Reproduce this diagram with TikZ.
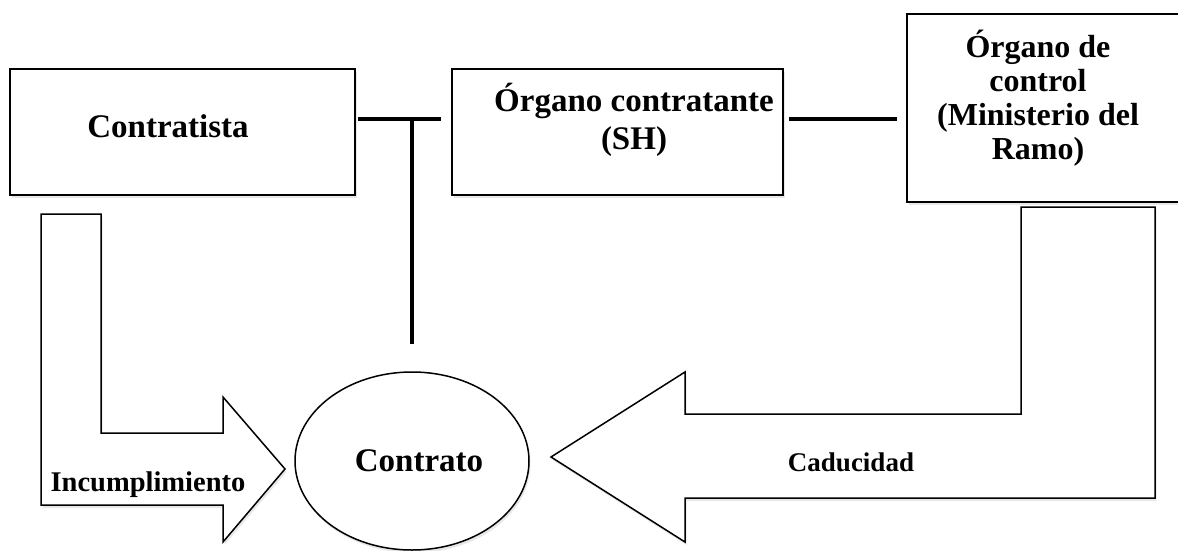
\documentclass[tikz,border=0pt]{standalone}
\usepackage{fontspec}
\setmainfont{Liberation Serif}
\usetikzlibrary{shapes.geometric,shadows}
\tikzset{
  boxnode/.style={draw=black, line width=1.8pt, fill=white, rectangle, inner sep=0pt,
    drop shadow={opacity=0.18, shadow xshift=1.5pt, shadow yshift=-3pt}},
  lbl/.style={font=\fontsize{33}{38}\selectfont\bfseries, align=center, inner sep=0pt},
  ctllbl/.style={font=\fontsize{32}{34}\selectfont\bfseries, align=center, inner sep=0pt},
  smalllbl/.style={font=\fontsize{28.5}{30}\selectfont\bfseries, inner sep=0pt},
  cadlbl/.style={font=\fontsize{27}{30}\selectfont\bfseries, inner sep=0pt},
  link/.style={line width=4.5pt, draw=black},
  bigarrow/.style={draw=black, line width=1.5pt, fill=white, line join=miter,
    drop shadow={opacity=0.18, shadow xshift=1.5pt, shadow yshift=-3pt}},
  ovalnode/.style={ellipse, draw=black, line width=1.5pt, fill=white, inner sep=0pt,
    drop shadow={opacity=0.18, shadow xshift=1.5pt, shadow yshift=-3pt}}
}
\begin{document}
\begin{tikzpicture}[x=1pt,y=-1pt]
\useasboundingbox (0,0) rectangle (1178,551);
\fill[white] (0,0) rectangle (1178,551);

% boxes
\node[boxnode, minimum width=345pt, minimum height=126pt] (contratista) at (182.5,132) {};
\node[lbl] (tcontratista) at (168,126) {Contratista};

\node[boxnode, minimum width=331pt, minimum height=126pt] (contratante) at (617.5,132) {};
\node[lbl] (tcontratante) at (634,120) {Órgano contratante\\(SH)};

\node[boxnode, minimum width=283pt, minimum height=188pt] (control) at (1048.5,108) {};
\node[ctllbl] (tcontrol) at (1038,98) {Órgano de\\control\\(Ministerio del\\Ramo)};

% left bent arrow
\draw[bigarrow] (41,214) -- (101,214) -- (101,433) -- (223,433) -- (223,397)
  -- (285,469) -- (223,542) -- (223,505) -- (41,505) -- cycle;
\node[smalllbl] (incump) at (148,485) {Incumplimiento};

% right bent arrow
\draw[bigarrow] (1021,207) -- (1155,207) -- (1155,498) -- (685,498) -- (685,542)
  -- (551,457) -- (685,372) -- (685,414) -- (1021,414) -- cycle;
\node[cadlbl] (caduc) at (851,462) {Caducidad};

% contract
\node[ovalnode, minimum width=234pt, minimum height=178pt, font=\fontsize{33}{38}\selectfont\bfseries] (contrato) at (412,461) {\hspace*{14pt}Contrato};

% connectors
\coordinate (tj) at (412,119);
\draw[link] ([xshift=2pt]contratista.east |- tj) -- ([xshift=-10pt]contratante.west |- tj);
\draw[link] (tj) -- ([yshift=27pt]contrato.north);
\draw[link] ([xshift=5pt]contratante.east |- tj) -- ([xshift=-9pt]control.west |- tj);
\end{tikzpicture}
\end{document}
